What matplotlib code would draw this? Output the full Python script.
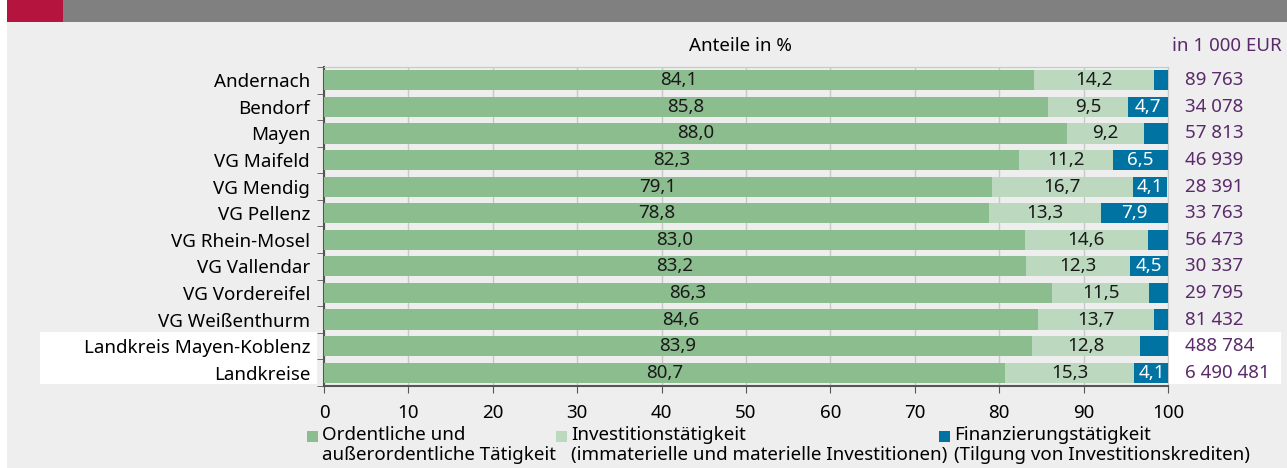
import matplotlib.pyplot as plt
import numpy as np
from matplotlib.patches import Rectangle

plt.rcParams['font.family'] = ['Noto Sans', 'DejaVu Sans']

# Daten: Anteile in % und Summe in 1 000 EUR
gebiete = ["Andernach", "Bendorf", "Mayen", "VG Maifeld", "VG Mendig", "VG Pellenz",
           "VG Rhein-Mosel", "VG Vallendar", "VG Vordereifel", "VG Weißenthurm",
           "Landkreis Mayen-Koblenz", "Landkreise"]
ordentlich = [84.1, 85.8, 88.0, 82.3, 79.1, 78.8, 83.0, 83.2, 86.3, 84.6, 83.9, 80.7]
investition = [14.2, 9.5, 9.2, 11.2, 16.7, 13.3, 14.6, 12.3, 11.5, 13.7, 12.8, 15.3]
finanzierung = [1.7, 4.7, 2.8, 6.5, 4.1, 7.9, 2.4, 4.5, 2.2, 1.7, 3.3, 4.1]
summe = ["89 763", "34 078", "57 813", "46 939", "28 391", "33 763",
         "56 473", "30 337", "29 795", "81 432", "488 784", "6 490 481"]

c_ord = "#8cbd8f"
c_inv = "#bcd9bf"
c_fin = "#0073a3"
c_purple = "#5b2a6b"
bg = "#edeeed"

fig = plt.figure(figsize=(12.87, 4.68), dpi=100)
fig.patch.set_facecolor("white")

# Hintergrund, Kopfbalken
fig.patches.append(Rectangle((7/1287, 0), 1 - 7/1287, 1 - 22/468, transform=fig.transFigure,
                             facecolor=bg, edgecolor="none", zorder=-10))
fig.patches.append(Rectangle((63/1287, 1 - 22/468), 1, 22/468, transform=fig.transFigure,
                             facecolor="#808080", edgecolor="none", zorder=-10))
fig.patches.append(Rectangle((7/1287, 1 - 22/468), 56/1287, 22/468, transform=fig.transFigure,
                             facecolor="#b5143f", edgecolor="none", zorder=-10))
# weiße Hervorhebung der letzten zwei Zeilen
fig.patches.append(Rectangle((40/1287, 1 - 384/468), 277/1287, 52/468, transform=fig.transFigure,
                             facecolor="white", edgecolor="none", zorder=-5))
fig.patches.append(Rectangle((1169/1287, 1 - 384/468), 112/1287, 52/468, transform=fig.transFigure,
                             facecolor="white", edgecolor="none", zorder=-5))

ax = fig.add_axes([324/1287, 1 - 386/468, 844/1287, 319/468])
ax.set_facecolor("none")

y = np.arange(len(gebiete))
h = 0.76
ordentlich = np.array(ordentlich)
investition = np.array(investition)
finanzierung = np.array(finanzierung)
ax.barh(y, ordentlich, height=h, color=c_ord, zorder=3)
ax.barh(y, investition, left=ordentlich, height=h, color=c_inv, zorder=3)
ax.barh(y, finanzierung, left=ordentlich + investition, height=h, color=c_fin, zorder=3)

fs = 13.5
for i in range(len(gebiete)):
    ax.text(ordentlich[i] / 2, y[i], f"{ordentlich[i]:.1f}".replace(".", ","),
            ha="center", va="center", fontsize=fs, color="#1a1a1a", zorder=4)
    ax.text(ordentlich[i] + investition[i] / 2, y[i], f"{investition[i]:.1f}".replace(".", ","),
            ha="center", va="center", fontsize=fs, color="#1a1a1a", zorder=4)
    if finanzierung[i] >= 4:
        ax.text(ordentlich[i] + investition[i] + finanzierung[i] / 2, y[i],
                f"{finanzierung[i]:.1f}".replace(".", ","),
                ha="center", va="center", fontsize=fs, color="white", zorder=4)
    ax.text(102, y[i], summe[i], ha="left", va="center", fontsize=fs,
            color=c_purple, clip_on=False)

ax.set_xlim(0, 100)
ax.set_ylim(len(gebiete) - 0.5, -0.5)
ax.set_xticks(range(0, 101, 10))
ax.tick_params(axis="x", labelsize=fs, length=5, color="#555555", pad=8)
ax.set_yticks(y)
ax.set_yticklabels(gebiete, fontsize=fs)
ax.tick_params(axis="y", length=0, pad=10)
ax.set_yticks(np.arange(-0.5, len(gebiete)), minor=True)
ax.tick_params(axis="y", which="minor", length=5, color="#555555")
ax.grid(axis="x", color="#c8c8c8", linewidth=1, zorder=0)
for s in ["left", "bottom"]:
    ax.spines[s].set_color("#555555")
    ax.spines[s].set_linewidth(1.5)
for s in ["top", "right"]:
    ax.spines[s].set_color("#c8c8c8")

fig.text(740/1287, 1 - 46/468, "Anteile in %", ha="center", va="center", fontsize=fs)
fig.text(1282/1287, 1 - 46/468, "in 1 000 EUR", ha="right", va="center", fontsize=fs,
         color=c_purple)

# Legende
legende = [(307, c_ord, "Ordentliche und\naußerordentliche Tätigkeit"),
           (556, c_inv, "Investitionstätigkeit\n(immaterielle und materielle Investitionen)"),
           (939, c_fin, "Finanzierungstätigkeit\n(Tilgung von Investitionskrediten)")]
for x0, col, txt in legende:
    fig.patches.append(Rectangle((x0/1287, 1 - 442/468), 11/1287, 11/468,
                                 transform=fig.transFigure, facecolor=col, edgecolor="none"))
    fig.text((x0 + 15)/1287, 1 - 426/468, txt, ha="left", va="top", fontsize=fs,
             linespacing=1.15)

fig.savefig("out.png", dpi=100, facecolor=fig.get_facecolor())
